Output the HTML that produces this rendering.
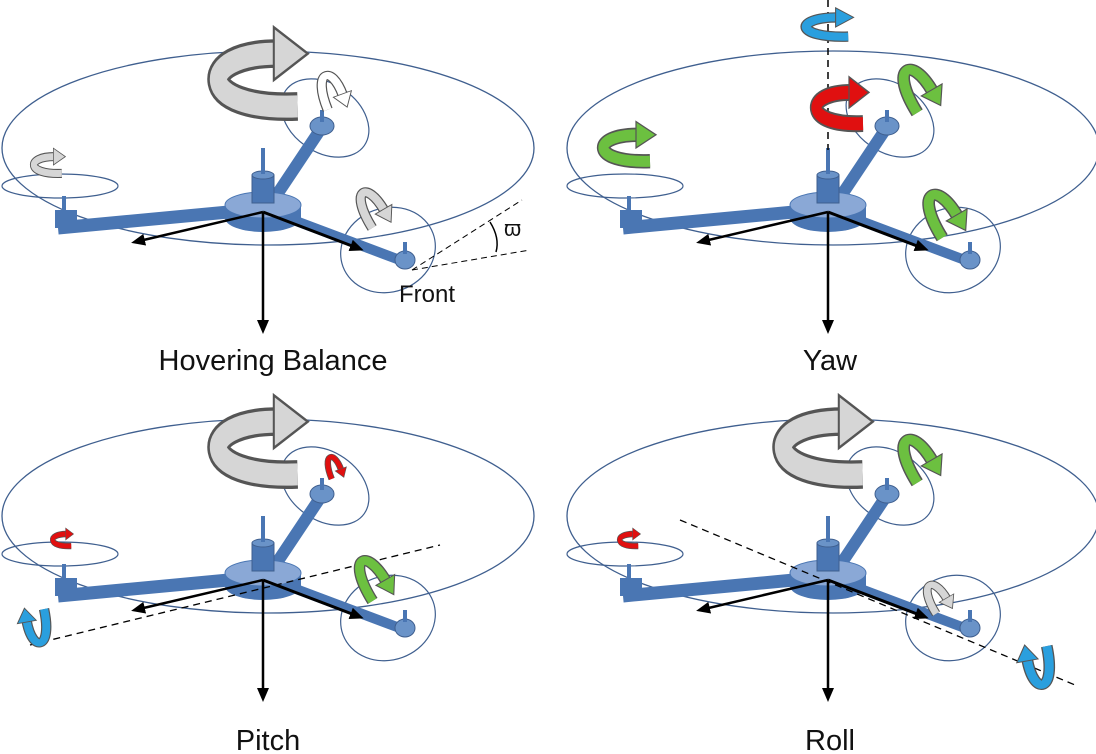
<!DOCTYPE html>
<html><head><meta charset="utf-8"><style>
html,body{margin:0;padding:0;background:#fff;}
svg{display:block;}
text{font-family:"Liberation Sans",sans-serif;fill:#111;}
</style></head><body>
<svg width="1096" height="754" viewBox="0 0 1096 754" xmlns="http://www.w3.org/2000/svg">
<defs>
<marker id="ah" markerWidth="8" markerHeight="8" refX="6" refY="4" orient="auto" markerUnits="userSpaceOnUse">
<path d="M0,0 L8,4 L0,8 Z" fill="#000"/></marker>
<marker id="ah2" markerWidth="14" markerHeight="12" refX="10" refY="6" orient="auto" markerUnits="userSpaceOnUse">
<path d="M0,0 L14,6 L0,12 Z" fill="#000"/></marker>
<g id="curl">
<path d="M28 12 C-32 14 -32 -12 16 -12" fill="none" stroke="#555" stroke-width="13"/>
<path d="M28 12 C-32 14 -32 -12 16 -12" fill="none" stroke="currentColor" stroke-width="10"/>
<polygon points="14,-24 34,-12 14,0" fill="currentColor" stroke="#555" stroke-width="1.2"/>
</g>
<g id="copter">
<ellipse cx="268" cy="148" rx="266" ry="97" fill="none" stroke="#3f5f8f" stroke-width="1.3"/>
<ellipse cx="60" cy="186" rx="58" ry="12" fill="none" stroke="#3f5f8f" stroke-width="1.2"/>
<ellipse cx="325" cy="118" rx="48" ry="34" transform="rotate(35 325 118)" fill="none" stroke="#3f5f8f" stroke-width="1.2"/>
<ellipse cx="388" cy="250" rx="48" ry="42" transform="rotate(-20 388 250)" fill="none" stroke="#3f5f8f" stroke-width="1.2"/>
<!-- arms -->
<line x1="250" y1="210" x2="58" y2="228" stroke="#4a76b3" stroke-width="13"/>
<rect x="55" y="210" width="22" height="18" fill="#4a76b3"/>
<rect x="62" y="196" width="4" height="16" fill="#4a76b3"/>
<line x1="270" y1="205" x2="320" y2="130" stroke="#4a76b3" stroke-width="12"/>
<ellipse cx="322" cy="126" rx="12" ry="9" fill="#6a93c8" stroke="#3f5f8f"/>
<rect x="320" y="110" width="4" height="12" fill="#4a76b3"/>
<line x1="280" y1="215" x2="405" y2="262" stroke="#4a76b3" stroke-width="10"/>
<ellipse cx="405" cy="260" rx="10" ry="9" fill="#6a93c8" stroke="#3f5f8f"/>
<rect x="403" y="242" width="4" height="12" fill="#4a76b3"/>
<!-- hub -->
<path d="M225 205 L225 218 A38 14 0 0 0 301 218 L301 205 Z" fill="#4a76b3"/>
<ellipse cx="263" cy="205" rx="38" ry="13" fill="#8aa8d6" stroke="#4a76b3"/>
<rect x="252" y="175" width="22" height="28" fill="#4a76b3" stroke="#3f5f8f"/>
<ellipse cx="263" cy="175" rx="11" ry="4" fill="#6a93c8" stroke="#3f5f8f"/>
<rect x="261" y="148" width="4" height="26" fill="#4a76b3"/>
<!-- axes -->
<line x1="263" y1="212" x2="263" y2="330" stroke="#000" stroke-width="2.5" marker-end="url(#ah2)"/>
<line x1="263" y1="212" x2="135" y2="242" stroke="#000" stroke-width="2.5" marker-end="url(#ah2)"/>
<line x1="263" y1="212" x2="360" y2="249" stroke="#000" stroke-width="3" marker-end="url(#ah2)"/>
</g>
</defs>

<!-- Top-left: hovering -->
<use href="#copter"/>
<line x1="412" y1="270" x2="522" y2="200" stroke="#000" stroke-dasharray="6,4"/>
<line x1="412" y1="270" x2="530" y2="250" stroke="#000" stroke-dasharray="6,4"/>
<path d="M490 222 Q500 238 496 252" fill="none" stroke="#000" stroke-width="1.5"/>
<text x="504" y="236" font-size="22">ϖ</text>
<text x="399" y="302" font-size="24">Front</text>
<text x="273" y="370" font-size="29" text-anchor="middle">Hovering Balance</text>
<use href="#curl" color="#d6d6d6" transform="translate(250 80) scale(1.7 2.2)"/>
<use href="#curl" color="#fff" transform="translate(330 88) rotate(70) scale(0.7 0.8)"/>
<use href="#curl" color="#d6d6d6" transform="translate(45 165) scale(0.6 0.7)"/>
<use href="#curl" color="#d6d6d6" transform="translate(370 205) rotate(60) scale(0.75 0.8)"/>

<!-- Top-right: yaw -->
<use href="#copter" transform="translate(565 0)"/>
<line x1="828" y1="0" x2="828" y2="150" stroke="#000" stroke-dasharray="7,5" stroke-width="1.5"/>
<use href="#curl" color="#2a9fde" transform="translate(823 27) scale(0.9 0.8)"/>
<use href="#curl" color="#e01010" transform="translate(835 108) scale(1 1.3)"/>
<use href="#curl" color="#6cc040" transform="translate(915 85) rotate(60) scale(0.9 1)"/>
<use href="#curl" color="#6cc040" transform="translate(622 148) scale(1 1.1)"/>
<use href="#curl" color="#6cc040" transform="translate(940 210) rotate(60) scale(0.9 1)"/>
<text x="830" y="370" font-size="29" text-anchor="middle">Yaw</text>

<!-- Bottom-left: pitch -->
<use href="#copter" transform="translate(0 368)"/>
<line x1="30" y1="645" x2="440" y2="545" stroke="#000" stroke-dasharray="7,5" stroke-width="1.3"/>
<use href="#curl" color="#d6d6d6" transform="translate(250 448) scale(1.7 2.2)"/>
<use href="#curl" color="#e01010" transform="translate(333 465) rotate(70) scale(0.45 0.5)"/>
<use href="#curl" color="#e01010" transform="translate(60 540) scale(0.4 0.5)"/>
<use href="#curl" color="#6cc040" transform="translate(370 575) rotate(60) scale(0.85 0.9)"/>
<use href="#curl" color="#2a9fde" transform="translate(38 630) rotate(-100) scale(0.7 0.8)"/>
<text x="268" y="750" font-size="29" text-anchor="middle">Pitch</text>

<!-- Bottom-right: roll -->
<use href="#copter" transform="translate(565 368)"/>
<line x1="680" y1="520" x2="1075" y2="685" stroke="#000" stroke-dasharray="7,5" stroke-width="1.3"/>
<use href="#curl" color="#d6d6d6" transform="translate(815 448) scale(1.7 2.2)"/>
<use href="#curl" color="#6cc040" transform="translate(915 455) rotate(60) scale(0.9 1)"/>
<use href="#curl" color="#e01010" transform="translate(627 540) scale(0.4 0.5)"/>
<use href="#curl" color="#d6d6d6" transform="translate(935 595) rotate(60) scale(0.6 0.7)"/>
<use href="#curl" color="#2a9fde" transform="translate(1040 670) rotate(-100) scale(0.8 0.9)"/>
<text x="830" y="750" font-size="29" text-anchor="middle">Roll</text>
</svg>
</body></html>
